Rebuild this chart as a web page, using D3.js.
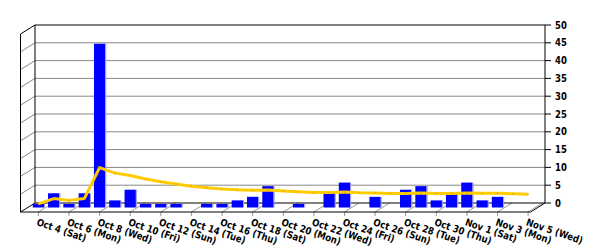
<!DOCTYPE html>
<html><head><meta charset="utf-8">
<script src="https://cdn.jsdelivr.net/npm/d3@7"></script>
<style>body{margin:0;background:#fff}svg{display:block}
text{font-family:"DejaVu Sans",sans-serif;font-weight:bold;font-size:10px;fill:#000}</style>
</head><body>
<svg id="c" width="600" height="250"></svg>
<script>
// ---- data ----
const days = ["Oct 4 (Sat)","Oct 5 (Sun)","Oct 6 (Mon)","Oct 7 (Tue)","Oct 8 (Wed)","Oct 9 (Thu)","Oct 10 (Fri)",
  "Oct 11 (Sat)","Oct 12 (Sun)","Oct 13 (Mon)","Oct 14 (Tue)","Oct 15 (Wed)","Oct 16 (Thu)","Oct 17 (Fri)",
  "Oct 18 (Sat)","Oct 19 (Sun)","Oct 20 (Mon)","Oct 21 (Tue)","Oct 22 (Wed)","Oct 23 (Thu)","Oct 24 (Fri)",
  "Oct 25 (Sat)","Oct 26 (Sun)","Oct 27 (Mon)","Oct 28 (Tue)","Oct 29 (Wed)","Oct 30 (Thu)","Oct 31 (Fri)",
  "Nov 1 (Sat)","Nov 2 (Sun)","Nov 3 (Mon)","Nov 4 (Tue)","Nov 5 (Wed)"];
const counts = [1,4,1,4,46,2,5,1,1,1,0,1,1,2,3,6,0,1,0,4,7,0,3,0,5,6,2,4,7,2,3,0,0];
const average = [1,2.5,2,2.5,11.2,9.67,9,8,7.22,6.6,6,5.58,5.23,5,4.87,4.94,4.65,4.44,4.21,4.2,4.33,
  4.14,4.09,3.92,3.96,4.04,3.96,3.96,4.07,4,3.97,3.84,3.73];
const yTicks = [0,5,10,15,20,25,30,35,40,45,50];

// ---- layout ----
const svg = d3.select("#c");
const L = 35, R = 545, T = 25, B = 203;   // back wall
const DX = 14.5, DY = 9;                  // depth offset
const bx = -DX/2, by = DY/2;              // bar plane offset

const y = d3.scaleLinear().domain([0,50]).range([B, T]);
const x = d3.scaleBand().domain(days).range([L + 3, R - 2]).paddingInner(0.26).paddingOuter(0.13);
const cx = d => x(d) + x.bandwidth()/2;

// back wall
svg.append("rect").attr("x",L).attr("y",T).attr("width",R-L).attr("height",B-T).attr("fill","#fff");
// gridlines on back wall and left wall
const g = svg.append("g");
yTicks.filter(v => v > 0 && v < 50).forEach(v => {
  g.append("line").attr("x1",L).attr("x2",R).attr("y1",y(v)).attr("y2",y(v)).attr("stroke","#888").attr("stroke-width",1);
  g.append("line").attr("x1",L).attr("x2",L-DX).attr("y1",y(v)).attr("y2",y(v)+DY).attr("stroke","#888").attr("stroke-width",1);
});

// category tick lines across floor
days.forEach((d,i) => {
  if (i % 2) return;
  const xb = cx(d) + DX/2, xf = cx(d) - DX/2;
  svg.append("line").attr("x1",xb).attr("y1",B).attr("x2",xf).attr("y2",B+DY).attr("stroke","#999");
  svg.append("line").attr("x1",xf).attr("y1",B+DY).attr("x2",xf).attr("y2",B+DY+4).attr("stroke","#999");
});

// frame outlines
const frame = svg.append("g").attr("fill","none").attr("stroke","#000").attr("stroke-width",1);
frame.append("path").attr("d",`M${L},${B}V${T}H${R}V${B}`);
frame.append("path").attr("d",`M${L},${T}L${L-DX},${T+DY}V${B+DY}L${L},${B}`);
frame.append("path").attr("d",`M${L-DX},${B+DY}H${R-DX}L${R},${B}H${L}`);

// bars
const bars = svg.append("g");
counts.forEach((v,i) => {
  if (v <= 0) return;
  const x0 = x(days[i]) + bx, w = x.bandwidth();
  const yt = y(v) + by, yb = y(0) + by;
  bars.append("rect").attr("x",x0).attr("y",yt).attr("width",w).attr("height",yb-yt).attr("fill","#0000ff");
  bars.append("rect").attr("x",x0+w).attr("y",yt).attr("width",1).attr("height",yb-yt).attr("fill","#9a9aff");
});

// line (average)
const line = d3.line().x((d,i) => cx(days[i]) + bx).y(d => y(d) + by);
svg.append("path").datum(average).attr("d",line).attr("fill","none")
  .attr("stroke","#ffcc00").attr("stroke-width",3).attr("stroke-linejoin","round");
svg.append("g").selectAll("circle").data(average).join("circle")
  .attr("cx",(d,i) => cx(days[i]) + bx).attr("cy",d => y(d) + by).attr("r",0.8).attr("fill","#e0a000");

// right axis
const ax = svg.append("g");
yTicks.forEach(v => {
  ax.append("line").attr("x1",R).attr("x2",R+6).attr("y1",y(v)).attr("y2",y(v)).attr("stroke","#000");
  ax.append("text").attr("transform",`translate(${R+10},${y(v)}) scale(0.85,1)`).attr("dy","0.36em").text(v);
});

// category labels
days.forEach((d,i) => {
  if (i % 2) return;
  const xf = cx(d) - DX/2;
  svg.append("text").attr("transform",`translate(${xf-2.5},225) rotate(19) scale(0.85,1)`).text(d);
});
</script>
</body></html>
